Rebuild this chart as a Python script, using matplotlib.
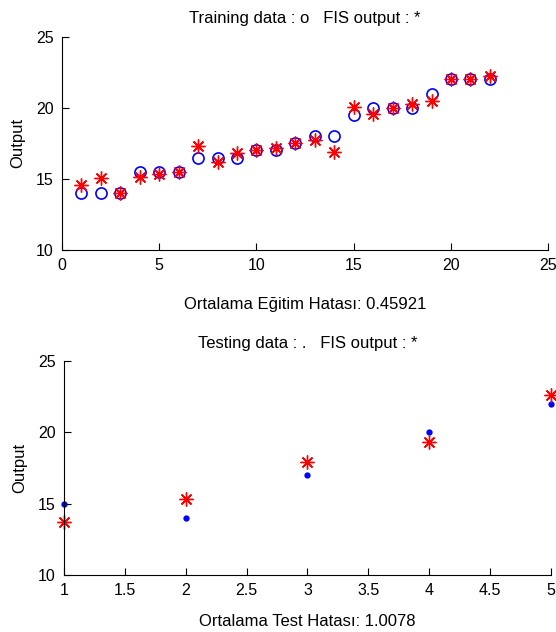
import numpy as np
import matplotlib.pyplot as plt

plt.rcParams['font.family'] = ['Liberation Sans', 'DejaVu Sans']
plt.rcParams['font.size'] = 12

# training set: index, target output, FIS output
train_idx = np.arange(1, 23)
train_out = [14, 14, 14, 15.5, 15.5, 15.5, 16.5, 16.5, 16.5, 17, 17,
             17.5, 18, 18, 19.5, 20, 20, 20, 21, 22, 22, 22]
train_fis = [14.55, 15.05, 14.0, 15.1, 15.35, 15.5, 17.3, 16.2, 16.85, 17.05, 17.2,
             17.5, 17.7, 16.9, 20.05, 19.55, 19.95, 20.25, 20.5, 22.05, 22.05, 22.25]
train_err = 0.45921

# testing set
test_idx = np.arange(1, 6)
test_out = [15, 14, 17, 20, 22]
test_fis = [13.7, 15.3, 17.95, 19.35, 22.6]
test_err = 1.0078

asterisk = (8, 2, 0)

fig = plt.figure(figsize=(5.56, 6.32), dpi=100)

ax1 = fig.add_axes([0.1115, 0.6044, 0.8745, 0.3376])
ax1.plot(train_idx, train_out, 'o', color='blue', mfc='none', ms=8, mew=1.2)
ax1.plot(train_idx, train_fis, marker=asterisk, ls='none', color='red', ms=10, mew=1.0)
ax1.set_xlim(0, 25)
ax1.set_ylim(10, 25)
ax1.set_xticks([0, 5, 10, 15, 20, 25])
ax1.set_yticks([10, 15, 20, 25])
ax1.set_ylabel('Output', labelpad=8)
ax1.set_xlabel('Ortalama Eğitim Hatası: %.5f' % train_err, labelpad=17)
ax1.set_title('Training data : o   FIS output : *', fontsize=12, pad=10)

ax2 = fig.add_axes([0.1151, 0.0902, 0.8759, 0.3386])
ax2.plot(test_idx, test_out, 'o', color='blue', ms=3.5, clip_on=False)
ax2.plot(test_idx, test_fis, marker=asterisk, ls='none', color='red', ms=10, mew=1.0, clip_on=False)
ax2.set_xlim(1, 5)
ax2.set_ylim(10, 25)
ax2.set_xticks([1, 1.5, 2, 2.5, 3, 3.5, 4, 4.5, 5])
ax2.set_xticklabels(['1', '1.5', '2', '2.5', '3', '3.5', '4', '4.5', '5'])
ax2.set_yticks([10, 15, 20, 25])
ax2.set_ylabel('Output', labelpad=8)
ax2.set_xlabel('Ortalama Test Hatası: %.4f' % test_err, labelpad=11)
ax2.set_title('Testing data : .   FIS output : *', fontsize=12, pad=9)

for ax in (ax1, ax2):
    ax.spines['top'].set_visible(False)
    ax.spines['right'].set_visible(False)
    ax.tick_params(direction='in', length=5, labelsize=11.5, pad=6)

fig.savefig('out.png', dpi=100)
